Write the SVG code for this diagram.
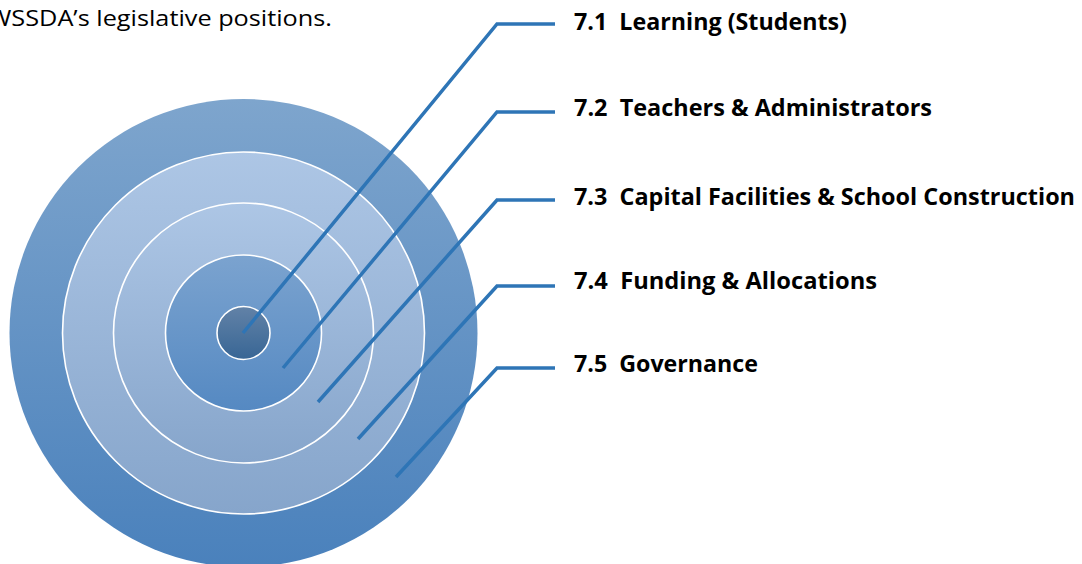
<svg xmlns="http://www.w3.org/2000/svg" width="1082" height="564" viewBox="0 0 1082 564">
  <defs>
    <linearGradient id="gOuter" x1="0" y1="0" x2="0" y2="1">
      <stop offset="0" stop-color="#7ea5cd"/>
      <stop offset="1" stop-color="#4a81bc"/>
    </linearGradient>
    <linearGradient id="gLight" x1="0" y1="0" x2="0" y2="1">
      <stop offset="0" stop-color="#adc6e5"/>
      <stop offset="1" stop-color="#86a5cb"/>
    </linearGradient>
    <linearGradient id="gMid" x1="0" y1="0" x2="0" y2="1">
      <stop offset="0" stop-color="#7ba3cf"/>
      <stop offset="1" stop-color="#5589c2"/>
    </linearGradient>
    <linearGradient id="gCore" x1="0" y1="0" x2="0" y2="1">
      <stop offset="0" stop-color="#6282a7"/>
      <stop offset="1" stop-color="#386695"/>
    </linearGradient>
    <style>
      .ring { stroke: #ffffff; stroke-width: 1.6; }
      .leader { fill: none; stroke: #2e75b6; stroke-width: 3.5; stroke-linejoin: miter; }
      .label { font-family: "Open Sans", "Noto Sans", sans-serif; font-weight: 700; font-size: 23.5px; fill: #000000; white-space: pre; }
      .intro { font-family: "Open Sans", "Noto Sans", sans-serif; font-size: 21px; fill: #000000; }
    </style>
  </defs>

  <rect width="1082" height="564" fill="#ffffff"/>

  <text class="intro" x="-12" y="26" textLength="344" lengthAdjust="spacingAndGlyphs">WSSDA’s legislative positions.</text>

  <!-- concentric target rings -->
  <g id="target">
    <circle id="ring-governance" cx="243.5" cy="333" r="234" fill="url(#gOuter)"/>
    <circle id="ring-funding" class="ring" cx="243.5" cy="333" r="181" fill="url(#gLight)"/>
    <circle id="ring-facilities" class="ring" cx="243.5" cy="333" r="130" fill="url(#gLight)"/>
    <circle id="ring-teachers" class="ring" cx="243.5" cy="333" r="78" fill="url(#gMid)"/>
    <circle id="ring-learning" class="ring" cx="243.5" cy="333" r="26.5" fill="url(#gCore)"/>
  </g>

  <!-- leader lines from each ring to its label -->
  <g id="connectors">
    <polyline class="leader" points="555,24 497,24 243,333"/>
    <polyline class="leader" points="555,112 497,112 283,368"/>
    <polyline class="leader" points="555,200 497,200 318,402"/>
    <polyline class="leader" points="555,286 497,286 358,439"/>
    <polyline class="leader" points="555,368 497,368 396,477"/>
  </g>

  <g id="label-7-1"><text class="label" x="574" y="30" textLength="273" lengthAdjust="spacingAndGlyphs">7.1  Learning (Students)</text></g>
  <g id="label-7-2"><text class="label" x="574" y="116" textLength="358" lengthAdjust="spacingAndGlyphs">7.2  Teachers &amp; Administrators</text></g>
  <g id="label-7-3"><text class="label" x="574" y="205" textLength="501" lengthAdjust="spacingAndGlyphs">7.3  Capital Facilities &amp; School Construction</text></g>
  <g id="label-7-4"><text class="label" x="574" y="289" textLength="303" lengthAdjust="spacingAndGlyphs">7.4  Funding &amp; Allocations</text></g>
  <g id="label-7-5"><text class="label" x="574" y="372" textLength="184" lengthAdjust="spacingAndGlyphs">7.5  Governance</text></g>
</svg>
